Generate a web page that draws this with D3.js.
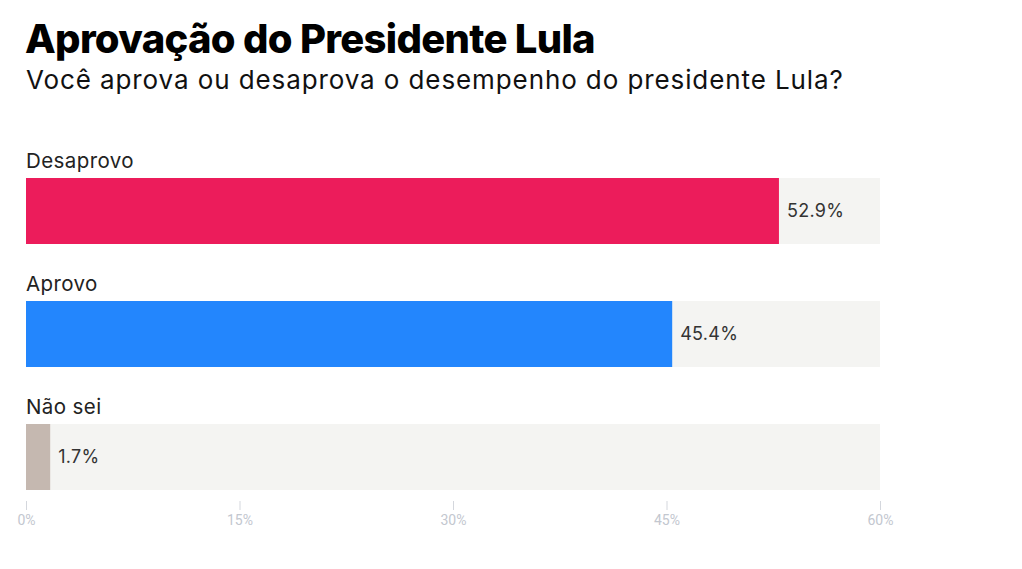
<!DOCTYPE html>
<html>
<head>
<meta charset="utf-8">
<script src="https://cdn.jsdelivr.net/npm/d3@7"></script>
<style>
  body { margin: 0; background: #fff; }
  text { font-family: "Inter", "Noto Sans", sans-serif; }
</style>
</head>
<body>
<div id="chart"></div>
<script>
// data
let categories = ['Desaprovo', 'Aprovo', 'Não sei'];
let values = [52.9, 45.4, 1.7];
let barColors = ['#ec1c5b', '#2386fd', '#c5b8b0'];
let tickValues = [0, 15, 30, 45, 60];

let svgWidth = 1022,
    svgHeight = 569;

let svg = d3.select('#chart')
    .append('svg')
    .attr('width', svgWidth)
    .attr('height', svgHeight);

// title + subtitle
svg.append('text')
    .attr('x', 25)
    .attr('y', 53)
    .attr('font-size', 40)
    .attr('font-weight', 800)
    .attr('letter-spacing', -0.7)
    .attr('fill', '#000')
    .text('Aprovação do Presidente Lula');

svg.append('text')
    .attr('x', 26)
    .attr('y', 89)
    .attr('font-size', 26)
    .attr('font-weight', 400)
    .attr('letter-spacing', 0.9)
    .attr('fill', '#111')
    .text('Você aprova ou desaprova o desempenho do presidente Lula?');

// scales
let xScale = d3.scaleLinear()
    .domain([0, 60])
    .range([26, 880]);

// rows: step 123, bar height 66 -> range = 2*123 + 66
let yScale = d3.scaleBand()
    .domain(categories)
    .range([178, 490])
    .paddingInner(57 / 123)
    .paddingOuter(0);

let rows = svg.append('g')
    .selectAll('g')
    .data(categories)
    .join('g');

// background tracks
rows.append('rect')
    .attr('x', xScale(0))
    .attr('y', d => yScale(d))
    .attr('width', xScale(60) - xScale(0))
    .attr('height', yScale.bandwidth())
    .attr('fill', '#f4f4f2');

// bars
rows.append('rect')
    .attr('x', xScale(0))
    .attr('y', d => yScale(d))
    .attr('width', (d, i) => xScale(values[i]) - xScale(0))
    .attr('height', yScale.bandwidth())
    .attr('fill', (d, i) => barColors[i]);

// category labels
rows.append('text')
    .attr('x', 26)
    .attr('y', d => yScale(d) - 10)
    .attr('font-size', 20.5)
    .attr('letter-spacing', 0.4)
    .attr('fill', '#222')
    .text(d => d);

// value labels
rows.append('text')
    .attr('x', (d, i) => xScale(values[i]) + 8)
    .attr('y', d => yScale(d) + yScale.bandwidth() / 2)
    .attr('dy', '0.35em')
    .attr('font-size', 18)
    .attr('letter-spacing', 0.3)
    .attr('fill', '#333')
    .text((d, i) => d3.format('.1f')(values[i]) + '%');

// axis
let axis = d3.axisBottom(xScale)
    .tickValues(tickValues)
    .tickSize(9)
    .tickPadding(5)
    .tickFormat(d => d + '%');

let axisG = svg.append('g')
    .attr('transform', 'translate(0, 501)')
    .call(axis);

axisG.select('.domain').remove();
axisG.selectAll('.tick line').attr('stroke', '#d4d7dd');
axisG.selectAll('.tick text')
    .attr('fill', '#c3c7cf')
    .attr('font-size', 14)
    .style('font-family', '"Roboto", sans-serif');
</script>
</body>
</html>
